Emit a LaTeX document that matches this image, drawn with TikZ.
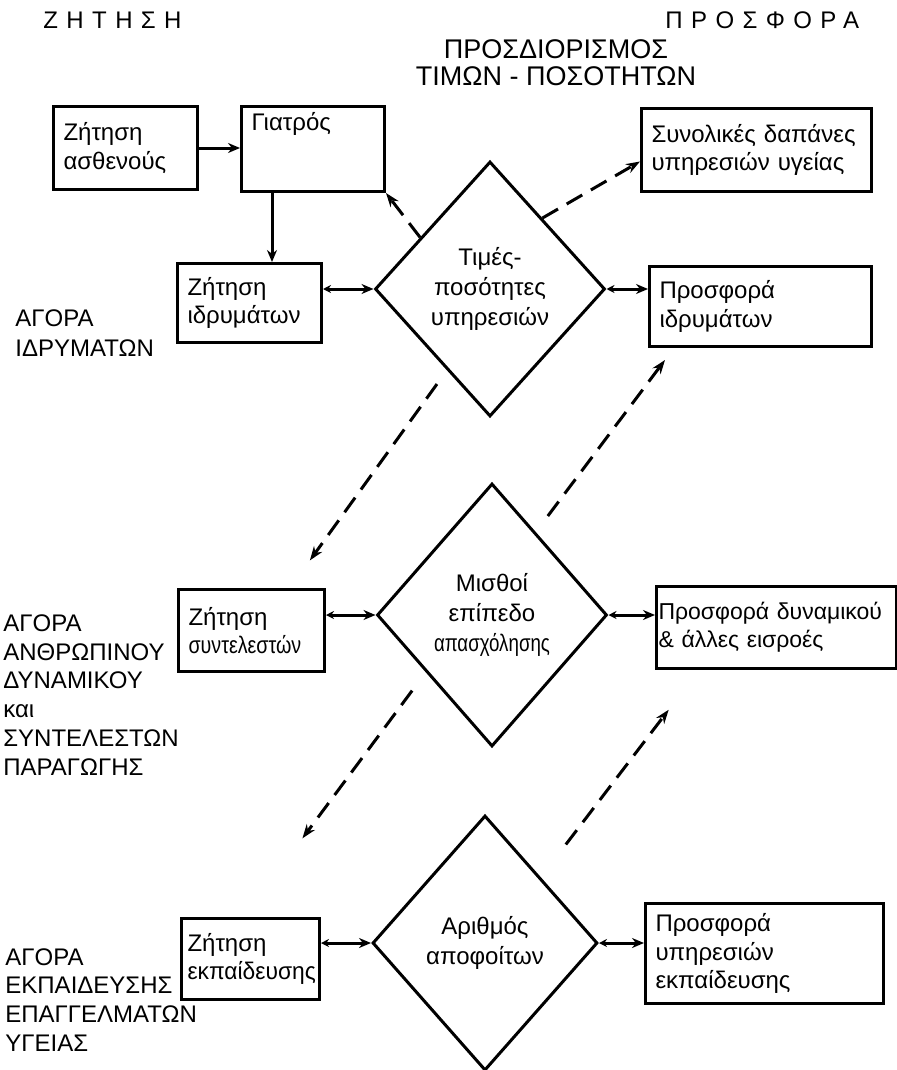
\documentclass[tikz,border=0pt]{standalone}
\usepackage{fontspec}
\setmainfont{Liberation Sans}
\usetikzlibrary{shapes.geometric,calc,arrows.meta}

\begin{document}
\begin{tikzpicture}[x=0.5pt,y=-0.5pt,
    font=\fontsize{12}{14.4}\selectfont,
    box/.style={draw,line width=1.5pt,anchor=north west,align=left,inner xsep=5pt,inner ysep=3pt},
    choice/.style={draw,shape=diamond,line width=1.5pt,inner sep=0pt,align=center,font=\fontsize{12}{15}\selectfont},
    market/.style={anchor=west,align=left,inner sep=0pt},
    spaced/.style={anchor=west,inner sep=0pt,font=\fontsize{12}{14}\selectfont\addfontfeature{LetterSpace=35}},
    arr/.style={-{Stealth[length=6pt,width=5pt]},line width=1.5pt},
    both/.style={{Stealth[length=4pt,width=4pt]}-{Stealth[length=6pt,width=5pt]},line width=1.5pt},
    flow/.style={-{Stealth[length=7pt,width=5pt]},line width=1.5pt,dash pattern=on 9pt off 5pt}]
      \useasboundingbox (0,0) rectangle (897,1070);

      % headings
      \node[spaced] (zit) at (43,20) {ΖΗΤΗΣΗ} ;
      \node[spaced] (pro) at (665,20) {ΠΡΟΣΦΟΡΑ} ;
      \node[align=center,font=\fontsize{13.5}{13.5}\selectfont] (tit) at (556,63) {ΠΡΟΣΔΙΟΡΙΣΜΟΣ\\ΤΙΜΩΝ - ΠΟΣΟΤΗΤΩΝ} ;

      % demand side
      \node[box,text width=62pt,minimum height=41.5pt] (asth) at (52,105) {Ζήτηση\\ασθενούς} ;
      \node[box,text width=61.5pt,minimum height=42.5pt,text height=9pt,text depth=27.5pt] (giatr) at (240,105) {Γιατρός} ;
      \node[box,text width=62pt,minimum height=39.5pt] (zid) at (176,262) {Ζήτηση\\ιδρυμάτων} ;
      \node[box,text width=63pt,minimum height=41pt] (zsyn) at (177,588) {Ζήτηση\\{\addfontfeature{FakeStretch=0.82}συντελεστών}} ;
      \node[box,inner xsep=3pt,text width=63pt,minimum height=40.5pt] (zekp) at (180,917) {Ζήτηση\\{\addfontfeature{FakeStretch=0.95}εκπαίδευσης}} ;

      % supply side
      \node[box,text width=105pt,minimum height=41.5pt] (dap) at (640,107) {Συνολικές δαπάνες\\υπηρεσιών υγείας} ;
      \node[box,text width=101pt,minimum height=40pt] (pid) at (648,265) {Προσφορά\\ιδρυμάτων} ;
      \node[box,inner xsep=1pt,text width=118pt,minimum height=41pt,font=\fontsize{11.5}{14}\selectfont] (pdyn) at (655,585) {Προσφορά~δυναμικού\\\& άλλες εισροές} ;
      \node[box,text width=109pt,minimum height=50pt] (pekp) at (644,902) {Προσφορά\\υπηρεσιών\\εκπαίδευσης} ;

      % markets
      \node[choice,minimum width=115pt,minimum height=127.5pt] (d1) at (490,289) {Τιμές-\\ποσότητες\\υπηρεσιών} ;
      \node[choice,minimum width=115pt,minimum height=131.5pt] (d2) at (492,615) {Μισθοί\\επίπεδο\\{\addfontfeature{FakeStretch=0.78}απασχόλησης}} ;
      \node[choice,minimum width=112.5pt,minimum height=127.5pt] (d3) at (485,943) {Αριθμός\\αποφοίτων} ;

      \node[market,font=\fontsize{12}{15}\selectfont] (ag1) at (15,333) {ΑΓΟΡΑ\\ΙΔΡΥΜΑΤΩΝ} ;
      \node[market] (ag2) at (3,695) {ΑΓΟΡΑ\\ΑΝΘΡΩΠΙΝΟΥ\\ΔΥΝΑΜΙΚΟΥ\\και\\ΣΥΝΤΕΛΕΣΤΩΝ\\ΠΑΡΑΓΩΓΗΣ} ;
      \node[market] (ag3) at (5,1000) {ΑΓΟΡΑ\\ΕΚΠΑΙΔΕΥΣΗΣ\\ΕΠΑΓΓΕΛΜΑΤΩΝ\\ΥΓΕΙΑΣ} ;

      \draw[arr] (asth.east) -- (asth.east -| giatr.west) ;
      \draw[arr] ([xshift=16pt]giatr.south west) -- ([xshift=16pt]giatr.south west |- zid.north) ;
      \draw[both] (zid.east |- d1.west) -- (d1.west) ;
      \draw[both] (d1.east) -- (d1.east -| pid.west) ;
      \draw[both] (zsyn.east |- d2.west) -- (d2.west) ;
      \draw[both] (d2.east) -- (d2.east -| pdyn.west) ;
      \draw[both] (zekp.east |- d3.west) -- (d3.west) ;
      \draw[both] (d3.east) -- (d3.east -| pekp.west) ;

      % dashed flows
      \draw[flow] ($(d1.north)!0.6!(d1.west)$) -- (giatr.south east) ;
      \draw[flow] ($(d1.north)!0.45!(d1.east)$) -- ([yshift=-5.75pt]dap.west) ;
      \draw[flow,shorten <=8.5pt,shorten >=17pt] ($(d1.west)!0.63!(d1.south)$) -- ([xshift=56.5pt]zsyn.north west) ;
      \draw[flow,shorten <=10pt,shorten >=7.5pt] ($(d2.north)!0.376!(d2.east)$) -- ([xshift=13pt]pid.south west) ;
      \draw[flow,shorten <=11.4pt,shorten >=49pt] ($(d2.west)!0.431!(d2.south)$) -- ([xshift=32pt]zekp.north west) ;
      \draw[flow,shorten <=20.6pt,shorten >=25pt] ($(d3.north)!0.49!(d3.east)$) -- ([xshift=22pt]pdyn.south west) ;
    \end{tikzpicture}
\end{document}
